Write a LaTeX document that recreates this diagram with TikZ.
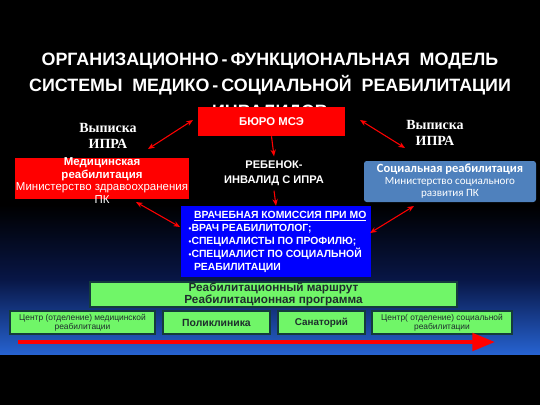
\documentclass[tikz,border=0pt]{standalone}
\usepackage{fontspec}
\setmainfont{Liberation Sans}
\newfontfamily\timesfont{Liberation Serif}
\newfontfamily\calfont{Carlito}
\usepackage{tikz}
\usetikzlibrary{arrows.meta}
\definecolor{mseRed}{RGB}{255,0,0}
\definecolor{socBlue}{RGB}{79,129,189}
\definecolor{vkBlue}{RGB}{0,0,255}
\definecolor{routeGreen}{RGB}{112,246,104}
\definecolor{routeEdge}{RGB}{20,60,60}
\definecolor{routeText}{RGB}{30,45,45}
\definecolor{deepBlue}{RGB}{38,98,208}
\newcommand{\wsp}{\hspace{0.55em}}
\newcommand{\vkbul}{{\fontsize{6}{6}\selectfont\textbullet}}
\tikzset{
  redbox/.style={fill=mseRed, draw=none, inner sep=0pt},
  greenbox/.style={fill=routeGreen, draw=routeEdge, line width=0.8pt, inner sep=0pt, text=routeText, align=center},
  dblarrow/.style={draw=mseRed, line width=0.8pt, {Stealth[length=5pt,width=4pt]}-{Stealth[length=5pt,width=4pt]}},
  downarrow/.style={draw=mseRed, line width=0.8pt, -{Stealth[length=5pt,width=4pt]}},
}

\begin{document}
\begin{tikzpicture}[x=0.75pt,y=0.75pt,yscale=-1,xscale=1]
\useasboundingbox (0,0) rectangle (540,405);

%Background
\fill[black] (0,0) rectangle (540,405);
\shade[top color=black, bottom color=deepBlue, middle color={rgb,255:red,8;green,22;blue,70}] (0,205) rectangle (540,354);

% Title
\node (title) [text=white, font=\bfseries\fontsize{13.4}{19.6}\selectfont, align=center, anchor=north] at (270,48.5)
  {ОРГАНИЗАЦИОННО\,-\,ФУНКЦИОНАЛЬНАЯ\wsp МОДЕЛЬ\\СИСТЕМЫ\wsp МЕДИКО\,-\,СОЦИАЛЬНОЙ\wsp РЕАБИЛИТАЦИИ\\ИНВАЛИДОВ};

%Shape: Rectangle [bureau]
\node (bureau) [redbox, minimum width=110.25pt, minimum height=21.75pt, text=white, font=\bfseries\fontsize{8.5}{10}\selectfont] at (271.5,121.5) {БЮРО МСЭ};

% Text Node
\node (iprL) [text=white, font=\timesfont\bfseries\fontsize{10.5}{12}\selectfont, align=center] at (108,136) {Выписка\\ИПРА};
% Text Node
\node (iprR) [text=white, font=\timesfont\bfseries\fontsize{10.5}{12}\selectfont, align=center] at (435,133) {Выписка\\ИПРА};

%Shape: Rectangle [medical]
\node (med) [redbox, minimum width=130.5pt, minimum height=30.75pt] at (102,178.5) {};
\node (medtxt) [text=white, align=center, font=\fontsize{8.6}{9.6}\selectfont] at (102,180.5)
  {\textbf{Медицинская}\\\textbf{реабилитация}\\Министерство здравоохранения\\ПК};

% Text Node
\node (child) [text=white, align=center, font=\bfseries\fontsize{8.3}{11.3}\selectfont] at (274,173.5) {РЕБЕНОК-\\ИНВАЛИД С ИПРА};

%Shape: Rounded Rectangle [social]
\node (soc) [fill=socBlue, rounded corners=2pt, minimum width=129pt, minimum height=30.75pt, inner sep=0pt, text=white, align=center, font=\calfont\fontsize{8.3}{9}\selectfont] at (450,181.5)
  {{\bfseries\fontsize{9.4}{9}\selectfont Социальная реабилитация}\\Министерство социального\\развития ПК};

%Shape: Rectangle [commission]
\node (vk) [fill=vkBlue, minimum width=142.5pt, minimum height=53.25pt, inner sep=0pt] at (276,241.5) {};
\node (vktxt) [text=white, align=left, anchor=west, font=\bfseries\fontsize{7.8}{9.75}\selectfont] at (184,241.5)
  {\hspace*{4pt}\underline{ВРАЧЕБНАЯ КОМИССИЯ ПРИ МО}\\
   \vkbul ВРАЧ РЕАБИЛИТОЛОГ;\\
   \vkbul СПЕЦИАЛИСТЫ ПО ПРОФИЛЮ;\\
   \vkbul СПЕЦИАЛИСТ ПО СОЦИАЛЬНОЙ\\
   \hspace*{4pt}РЕАБИЛИТАЦИИ};

%Shape: Rectangle [route]
\node (route) [greenbox, minimum width=275.25pt, minimum height=18.75pt, font=\bfseries\fontsize{8.8}{9.3}\selectfont] at (273.5,294.5)
  {Реабилитационный маршрут\\Реабилитационная программа};

%Shape: Rectangles [places]
\node (centerM) [greenbox, minimum width=108.75pt, minimum height=17.25pt, font=\fontsize{6.3}{7}\selectfont] at (82.5,322.5) {Центр (отделение) медицинской\\реабилитации};
\node (clinic) [greenbox, minimum width=80.25pt, minimum height=17.25pt, font=\bfseries\fontsize{7.8}{9}\selectfont] at (216.5,322.5) {Поликлиника};
\node (sanat) [greenbox, minimum width=65.25pt, minimum height=17.25pt, font=\bfseries\fontsize{7.4}{9}\selectfont] at (321.5,322.5) {Санаторий};
\node (centerS) [greenbox, minimum width=105pt, minimum height=17.25pt, font=\fontsize{6.3}{7}\selectfont] at (442,322.5) {Центр( отделение) социальной\\реабилитации};

% Arrow ends
\coordinate (aL1) at (148,149);
\coordinate (aL2) at (193,120);
\coordinate (aR1) at (360,120);
\coordinate (aR2) at (405,148);
\coordinate (bL1) at (136,202);
\coordinate (bL2) at (180,227);
\coordinate (bR1) at (370,233);
\coordinate (bR2) at (414,206);
\coordinate (tS) at (18,342);
\coordinate (tE) at (495,342);

%Straight Lines
\draw [dblarrow] (aL1) -- (aL2);
\draw [dblarrow] (aR1) -- (aR2);
\draw [dblarrow] (bL1) -- (bL2);
\draw [dblarrow] (bR1) -- (bR2);
\draw [downarrow] (bureau.south) -- (child.north);
\draw [downarrow] (child.south) -- (vk.north);

%Big arrow
\draw [draw=mseRed, line width=3pt, -{Triangle[length=17pt,width=13pt]}] (tS) -- (tE);

\end{tikzpicture}
\end{document}
